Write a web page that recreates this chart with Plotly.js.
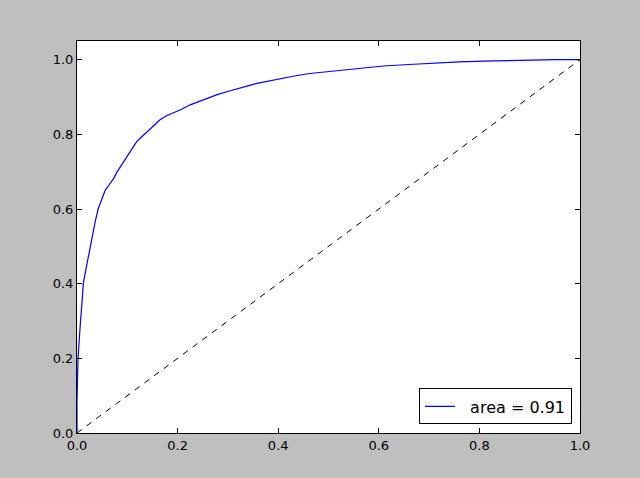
<!DOCTYPE html>
<html>
<head>
<meta charset="utf-8">
<script src="https://cdn.plot.ly/plotly-3.0.1.min.js"></script>
<style>html,body{margin:0;padding:0;background:#bfbfbf;}#chart{width:640px;height:478px;}</style>
</head>
<body>
<div id="chart"></div>
<script>
// ROC curve
const fpr = [0, 0, 0.002, 0.004, 0.007, 0.010, 0.0125, 0.018, 0.022, 0.027, 0.032, 0.036, 0.042, 0.048, 0.056, 0.064, 0.072, 0.080, 0.090, 0.099, 0.110, 0.119, 0.130, 0.142, 0.155, 0.165, 0.178, 0.191, 0.208, 0.225, 0.245, 0.264, 0.280, 0.298, 0.315, 0.331, 0.345, 0.360, 0.385, 0.410, 0.435, 0.463, 0.500, 0.543, 0.575, 0.609, 0.660, 0.708, 0.760, 0.808, 0.860, 0.907, 0.950, 1.0];
const tpr = [0, 0.083, 0.20, 0.25, 0.30, 0.35, 0.40, 0.44, 0.47, 0.50, 0.545, 0.565, 0.60, 0.62, 0.65, 0.665, 0.68, 0.70, 0.72, 0.741, 0.76, 0.781, 0.795, 0.81, 0.825, 0.839, 0.85, 0.857, 0.867, 0.879, 0.889, 0.900, 0.907, 0.914, 0.921, 0.927, 0.932, 0.937, 0.944, 0.951, 0.957, 0.963, 0.968, 0.975, 0.979, 0.983, 0.987, 0.991, 0.994, 0.996, 0.998, 0.999, 1.0, 1.0];
const diagX = [0, 1];
const diagY = [0, 1];
const legendLabel = "area = 0.91";
const tickVals = [0, 0.2, 0.4, 0.6, 0.8, 1.0];
const tickText = ["0.0", "0.2", "0.4", "0.6", "0.8", "1.0"];

const traces = [
  {x: fpr, y: tpr, type: 'scatter', mode: 'lines', name: '\u00a0\u00a0' + legendLabel,
   line: {color: '#0000ff', width: 1.2}},
  {x: diagX, y: diagY, type: 'scatter', mode: 'lines', showlegend: false,
   line: {color: '#000000', width: 1, dash: '6px,6px'}}
];

const axisCommon = {
  showgrid: false, zeroline: false, showline: true, linecolor: '#000', linewidth: 1,
  mirror: 'ticks', ticks: 'inside', ticklen: 5, tickcolor: '#000', tickwidth: 1,
  tickfont: {family: 'DejaVu Sans', size: 13, color: '#000'},
  tickmode: 'array', tickvals: tickVals, ticktext: tickText
};

const layout = {
  width: 640, height: 478,
  paper_bgcolor: '#bfbfbf', plot_bgcolor: '#ffffff',
  margin: {l: 77, r: 60, t: 41, b: 45},
  xaxis: Object.assign({}, axisCommon, {range: [0, 1]}),
  yaxis: Object.assign({}, axisCommon, {range: [0, 1.05]}),
  showlegend: true,
  legend: {x: 0.984, y: 0.022, xanchor: 'right', yanchor: 'bottom',
    bgcolor: '#ffffff', bordercolor: '#000', borderwidth: 1,
    font: {family: 'DejaVu Sans', size: 16, color: '#000'}}
};

Plotly.newPlot('chart', traces, layout, {displayModeBar: false, staticPlot: true});
</script>
</body>
</html>
